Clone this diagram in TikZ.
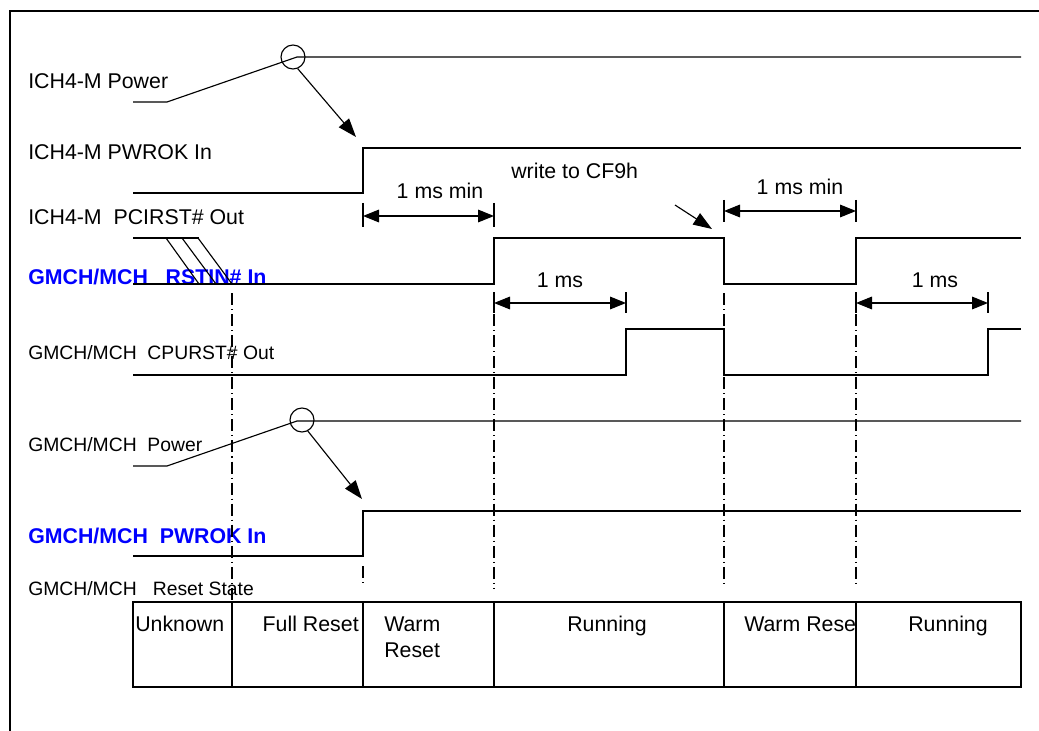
\documentclass[tikz,border=0pt]{standalone}
\usepackage{fontspec}
\setmainfont{Liberation Sans}
\usetikzlibrary{arrows.meta}
\tikzstyle{wave} = [line width=0.85pt, line join=miter]
\tikzstyle{siglabel} = [anchor=base west, inner sep=0pt, font=\fontsize{16}{19}\selectfont]
\tikzstyle{smalllabel} = [anchor=base west, inner sep=0pt, font=\fontsize{14.5}{17}\selectfont]
\tikzstyle{bluelabel} = [anchor=base west, inner sep=0pt, font=\fontsize{16}{19}\selectfont\bfseries, text=blue]
\tikzstyle{timelabel} = [anchor=base, inner sep=0pt, font=\fontsize{16}{19}\selectfont]
\tikzstyle{cell} = [inner sep=0pt, font=\fontsize{16}{19}\selectfont]
\tikzstyle{guide} = [line width=0.8pt, dash pattern=on 9pt off 3pt on 0.8pt off 3pt]
\tikzstyle{tick} = [line width=0.85pt]
\tikzstyle{dimarrow} = [line width=0.85pt, {Triangle[length=12pt,width=9.5pt]}-{Triangle[length=12pt,width=9.5pt]}]
\tikzstyle{arrow} = [line width=0.85pt, -{Triangle[length=14pt,width=10pt]}]
\tikzstyle{ring} = [draw, circle, line width=0.85pt, minimum size=18pt, inner sep=0pt]
\begin{document}
\begin{tikzpicture}[x=0.75pt, y=-0.75pt]
    \useasboundingbox (0,0) rectangle (1039,731);
    \draw[line width=0.9pt] (10,731) -- (10,11) -- (1039,11);

    \node[siglabel]   (lpow)    at (28,89)  {ICH4-M Power};
    \node[siglabel]   (lpwrok)  at (28,160) {ICH4-M PWROK In};
    \node[siglabel]   (lpcirst) at (28,224) {ICH4-M\ \ PCIRST\# Out};
    \node[bluelabel]  (lrstin)  at (28,284) {GMCH/MCH\ \ \ RSTIN\# In};
    \node[smalllabel] (lcpurst) at (28,359) {GMCH/MCH\ \ CPURST\# Out};
    \node[smalllabel] (lgpow)   at (28,451) {GMCH/MCH\ \ Power};
    \node[bluelabel]  (lgpwrok) at (28,543) {GMCH/MCH\ \ PWROK In};
    \node[smalllabel] (lstate)  at (28,595) {GMCH/MCH\ \ \ Reset State};

    \draw[wave] (133,102) -- (167,102) -- (297,57) -- (1021,57);
    \node[ring] (ichring) at (293,57) {};
    \coordinate (ichedge) at (356,137);
    \draw[arrow] (ichring.-68) -- (ichedge);
    \draw[wave] (133,193) -- (363,193) -- (363,148) -- (1021,148);

    \draw[wave] (133,238) -- (199,238);
    \draw[wave] (166,238) -- (199,284);
    \draw[wave] (182,238) -- (216,284);
    \draw[wave] (198,238) -- (232,284);
    \draw[wave] (133,284) -- (494,284) -- (494,238) -- (724,238) -- (724,284) -- (856,284) -- (856,238) -- (1021,238);

    \draw[wave] (133,375) -- (626,375) -- (626,329) -- (724,329) -- (724,375) -- (988,375) -- (988,329) -- (1021,329);

    \draw[wave] (133,466) -- (167,466) -- (297,421) -- (1021,421);
    \node[ring] (gmchring) at (302,420) {};
    \coordinate (gmchedge) at (362,499);
    \draw[arrow] (gmchring.-62) -- (gmchedge);
    \draw[wave] (133,556) -- (363,556) -- (363,511) -- (1021,511);

    \draw[guide] (232,293) -- (232,602);
    \draw[guide] (494,293) -- (494,588);
    \draw[guide] (724,293) -- (724,584);
    \draw[guide] (856,293) -- (856,584);
    \draw[guide] (363,566) -- (363,584);

    \coordinate (a1) at (363,216);
    \coordinate (b1) at (494,216);
    \draw[tick] (363,203) -- (363,227);
    \draw[tick] (494,203) -- (494,227);
    \draw[dimarrow] (a1) -- (b1);
    \node[timelabel] (t1) at (440,199) {1 ms min};

    \coordinate (a2) at (724,211);
    \coordinate (b2) at (856,211);
    \draw[tick] (724,200) -- (724,222);
    \draw[tick] (856,200) -- (856,222);
    \draw[dimarrow] (a2) -- (b2);
    \node[timelabel] (t2) at (800,195) {1 ms min};

    \coordinate (a3) at (494,303);
    \coordinate (b3) at (626,303);
    \draw[tick] (494,292) -- (494,313);
    \draw[tick] (626,292) -- (626,313);
    \draw[dimarrow] (a3) -- (b3);
    \node[timelabel] (t3) at (560,287) {1 ms};

    \coordinate (a4) at (856,303);
    \coordinate (b4) at (988,303);
    \draw[tick] (856,292) -- (856,313);
    \draw[tick] (988,292) -- (988,313);
    \draw[dimarrow] (a4) -- (b4);
    \node[timelabel] (t4) at (935,287) {1 ms};

    \node[siglabel] (cf9) at (511,179) {write to CF9h};
    \coordinate (cf9from) at (675,205);
    \coordinate (cf9to) at (712,229);
    \draw[arrow] (cf9from) -- (cf9to);

    \draw[wave] (133,602) rectangle (1021,687);
    \foreach \sx in {232,363,494,724,856}
        \draw[wave] (\sx,602) -- (\sx,687);
    \node[cell, anchor=base west] (unknown) at (135,631) {Unknown};
    \node[cell, anchor=base east] (fullrst) at (359,631) {Full Reset};
    \node[cell, anchor=base west] (warm1)   at (384,631) {Warm};
    \node[cell, anchor=base west] (warm1b)  at (384,657) {Reset};
    \node[cell, anchor=base]      (run1)    at (607,631) {Running};
    \node[cell, anchor=base west] (warm2)   at (744,631) {Warm Rese};
    \node[cell, anchor=base]      (run2)    at (948,631) {Running};
\end{tikzpicture}
\end{document}
